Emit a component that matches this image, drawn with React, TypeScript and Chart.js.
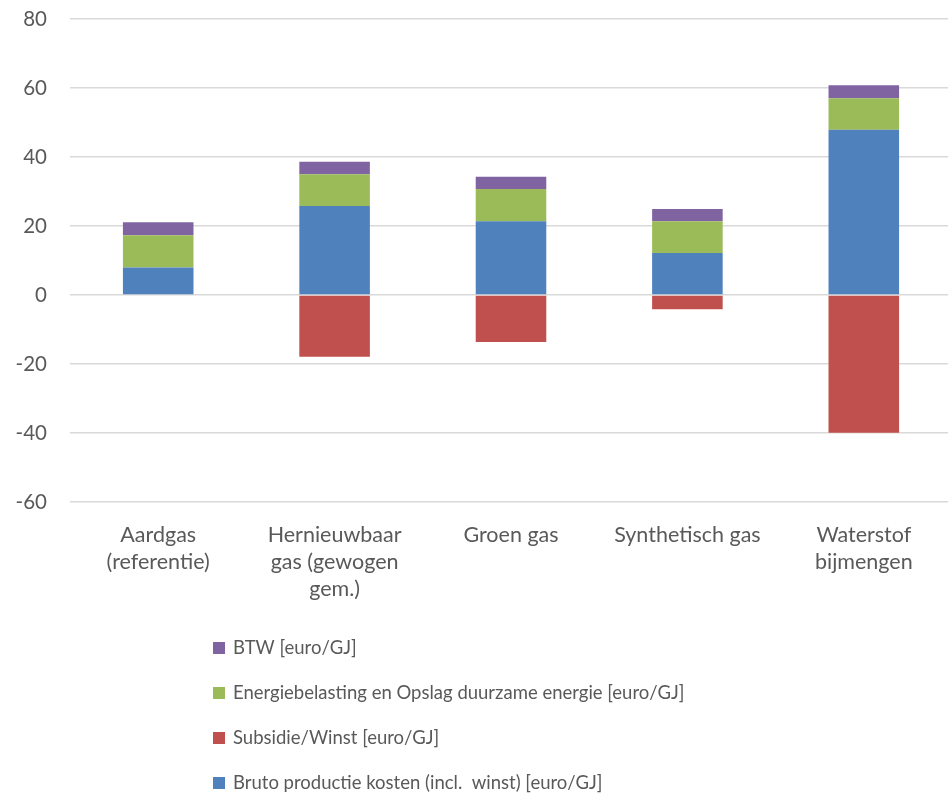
import { useEffect, useRef } from "react";
import { Chart, registerables } from "chart.js";

Chart.register(...registerables);

const categories: (string | string[])[] = [
  ["Aardgas", "(referentie)"],
  ["Hernieuwbaar", "gas (gewogen", "gem.)"],
  "Groen gas",
  "Synthetisch gas",
  ["Waterstof", "bijmengen"],
];

const brutoKosten = [8.0, 25.8, 21.4, 12.2, 47.9];
const subsidieWinst = [null, -17.9, -13.6, -4.1, -39.9];
const energiebelasting = [9.3, 9.2, 9.3, 9.2, 9.1];
const btw = [3.8, 3.6, 3.6, 3.5, 3.8];

const yTicks = { min: -60, max: 80, step: 20 };

const FONT = "Lato, 'Open Sans', sans-serif";
const TEXT = "#595959";

const verticalLegend = {
  id: "verticalLegend",
  afterDraw(chart: any) {
    const ctx = chart.ctx;
    const items = [...chart.data.datasets].reverse();
    ctx.save();
    ctx.font = `18.5px ${FONT}`;
    ctx.textBaseline = "middle";
    ctx.textAlign = "left";
    items.forEach((ds: any, i: number) => {
      const y = 648 + i * 45;
      ctx.fillStyle = ds.backgroundColor;
      ctx.fillRect(213, y - 6, 12, 12);
      ctx.fillStyle = TEXT;
      ctx.fillText(ds.label, 233, y);
    });
    ctx.restore();
  },
};

export default function App() {
  const ref = useRef<HTMLCanvasElement | null>(null);

  useEffect(() => {
    if (!ref.current) return;
    const chart = new Chart(ref.current, {
      type: "bar",
      data: {
        labels: categories as any,
        datasets: [
          { label: "Bruto productie kosten (incl.  winst) [euro/GJ]", data: brutoKosten, backgroundColor: "#4f81bd" },
          { label: "Subsidie/Winst [euro/GJ]", data: subsidieWinst as any, backgroundColor: "#c0504d" },
          { label: "Energiebelasting en Opslag duurzame energie [euro/GJ]", data: energiebelasting, backgroundColor: "#9bbb59" },
          { label: "BTW [euro/GJ]", data: btw, backgroundColor: "#8064a2" },
        ],
      },
      options: {
        responsive: false,
        animation: false,
        layout: { padding: { top: 19, left: 0, right: 0, bottom: 0 } },
        datasets: { bar: { barPercentage: 0.4, categoryPercentage: 1, borderWidth: 0 } },
        plugins: { legend: { display: false }, tooltip: { enabled: false } },
        scales: {
          x: {
            stacked: true,
            grid: { display: false, drawTicks: false },
            border: { display: false },
            ticks: { color: TEXT, font: { family: FONT, size: 21.5, lineHeight: "27px" }, padding: 20, maxRotation: 0, autoSkip: false },
            afterFit: (s: any) => { s.height = 294; s.paddingLeft = 0; s.paddingRight = 0; },
          },
          y: {
            stacked: true,
            min: yTicks.min,
            max: yTicks.max,
            grid: { color: "#d9d9d9", lineWidth: 1.5, drawTicks: false },
            border: { display: false },
            ticks: { stepSize: yTicks.step, color: TEXT, font: { family: FONT, size: 20.5 }, padding: 23 },
            afterFit: (s: any) => { s.width = 70; s.paddingTop = 0; s.paddingBottom = 0; },
          },
        },
      },
      plugins: [verticalLegend],
    });
    return () => chart.destroy();
  }, []);

  return (
    <div style={{ position: "absolute", left: 0, top: 0, width: 948, height: 796, overflow: "hidden", background: "#fff" }}>
      <canvas ref={ref} width={952} height={796} style={{ display: "block" }} />
    </div>
  );
}
